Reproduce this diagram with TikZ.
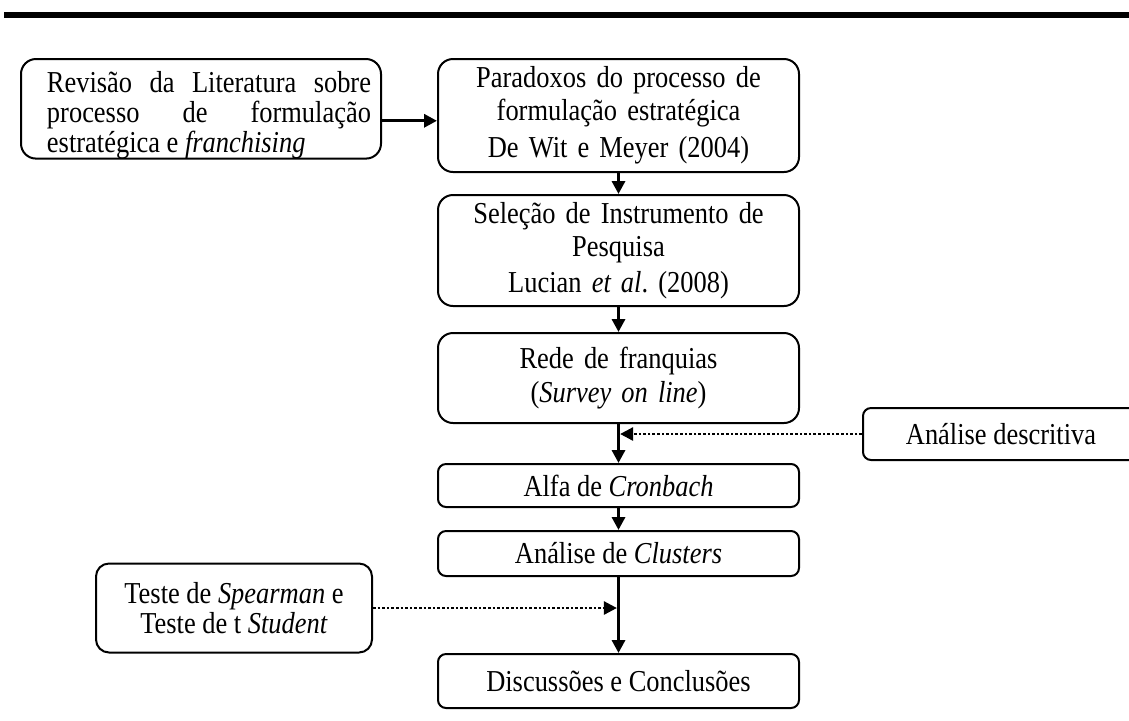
\documentclass[tikz,border=0pt]{standalone}
\usepackage{fontspec}
\setmainfont{Liberation Serif}[FakeStretch=0.87]
\usetikzlibrary{positioning,arrows.meta}

\begin{document}
\begin{tikzpicture}[
  font=\fontsize{15.2}{16.6}\selectfont,
  bigbox/.style={draw, line width=1pt, rounded corners=7.5pt, minimum width=180.5pt,
    text width=170pt, align=center, inner sep=0pt},
  smallbox/.style={draw, line width=1pt, rounded corners=4pt, minimum width=180.5pt,
    align=center, inner sep=0pt},
  sidebox/.style={draw, line width=1pt, rounded corners=6.5pt, minimum width=138pt,
    align=center, inner sep=0pt},
  flow/.style={line width=1.6pt, -{Triangle[length=6.5pt,width=6.5pt]}},
  aside/.style={line width=1.3pt, dash pattern=on 1.3pt off 1pt,
    -{Triangle[length=6.5pt,width=6.5pt]}}
    ]

\useasboundingbox (0,0) rectangle (564.5pt,-360pt);
\draw[line width=2.75pt] (2pt,-7.5pt) -- (564.5pt,-7.5pt);

\node[bigbox, minimum height=56.5pt, anchor=north west] (par) at (218.5pt,-29pt)
  {Paradoxos do processo de\\formulação estratégica\\[2pt]De Wit e Meyer (2004)};
\node[bigbox, minimum height=49.5pt, minimum width=180pt, align=justify,
  font=\fontsize{15.2}{15}\selectfont,
  left=27.5pt of par.north west, anchor=north east,
  execute at begin node={\leftskip=8pt\tolerance=10000\hbadness=10000\hyphenpenalty=10000}] (rev)
  {\rule{0pt}{16.5pt}Revisão da Literatura sobre\linebreak processo de formulação\linebreak estratégica e \textit{franchising}};
\node[bigbox, minimum height=55.5pt, below=10.5pt of par] (sel)
  {Seleção de Instrumento de\\Pesquisa\\[1pt]Lucian \textit{et al}.\ (2008)};
\node[bigbox, minimum height=45pt, below=12.5pt of sel] (rede)
  {Rede de franquias\\(\textit{Survey on line})};
\node[smallbox, minimum height=21.5pt, below=19.5pt of rede] (alfa) {Alfa de \textit{Cronbach}};
\node[smallbox, minimum height=22.5pt, below=11pt of alfa] (clu) {Análise de \textit{Clusters}};
\node[smallbox, minimum height=27pt, below=38pt of clu] (disc) {Discussões e Conclusões};
\node[smallbox, minimum width=138pt, minimum height=26pt,
  right=31pt of rede.south east, anchor=west, yshift=-5pt] (desc) {Análise descritiva};
\node[sidebox, minimum height=44.5pt, font=\fontsize{15.2}{15}\selectfont,
  left=32pt of clu.south west, anchor=east,
  yshift=-15.5pt] (teste) {Teste de \textit{Spearman} e\\Teste de t \textit{Student}};

\draw[flow] ([yshift=-6pt]rev.east) -- ([yshift=-6pt]rev.east -| par.west);
\draw[flow] (par) -- (sel);
\draw[flow] (sel) -- (rede);
\draw[flow] (rede) -- (alfa);
\draw[flow] (alfa) -- (clu);
\draw[flow] (clu) -- (disc);
\draw[aside, shorten >=0.8pt] (desc.west) -- (desc.west -| rede.south);
\draw[aside, shorten >=0.8pt] (teste.east) -- (teste.east -| clu.south);

\end{tikzpicture}
\end{document}
